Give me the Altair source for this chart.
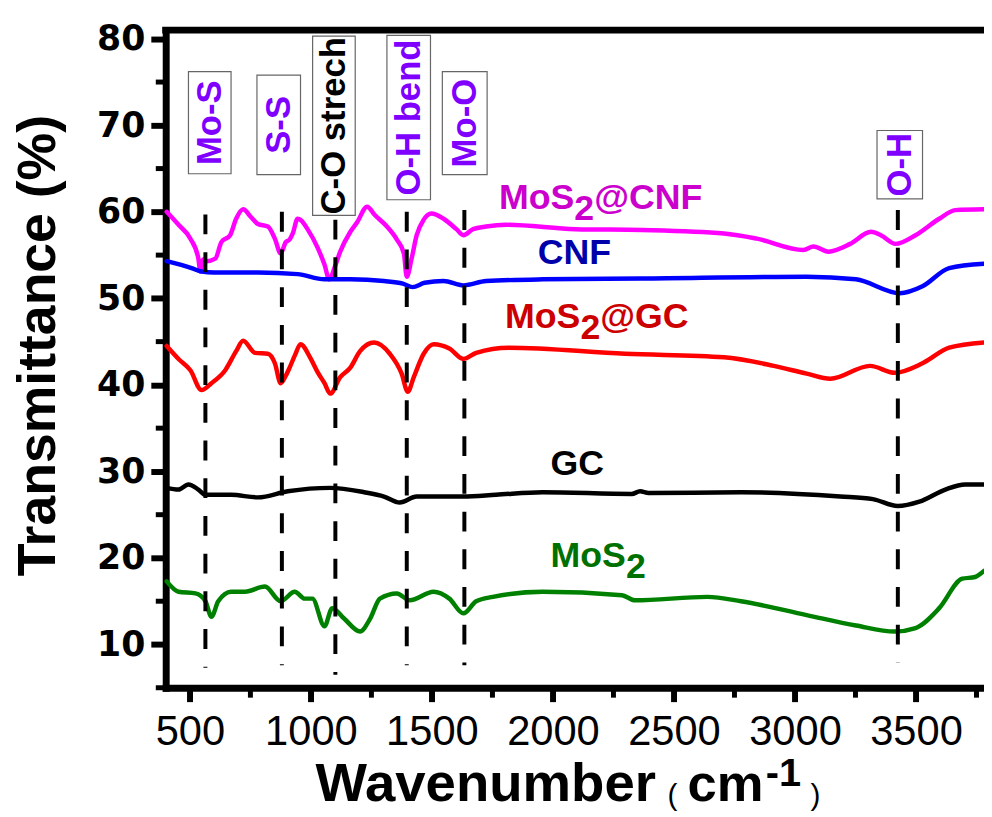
import altair as alt
import pandas as pd

# ---------------- data ----------------
names = ["MoS2@CNF", "CNF", "MoS2@GC", "GC", "MoS2"]
line_colors = ["#FF00FF", "#0000FF", "#FF0000", "#000000", "#008000"]

cnfmos_w = [404, 453, 502, 535, 543, 555, 568, 605, 630, 666, 691, 720, 752, 781, 822, 851, 875,
            896, 912, 925, 945, 960, 986, 1027, 1056, 1076, 1097, 1121, 1163, 1191, 1232, 1265,
            1314, 1355, 1384, 1396, 1416, 1437, 1466, 1498, 1548, 1601, 1630, 1670, 1724, 1806,
            2093, 2367, 2707, 2843, 3035, 3076, 3138, 3228, 3314, 3355, 3416, 3498, 3596, 3662, 3781]
cnfmos_t = [60.0, 58.5, 56.9, 54.6, 53.1, 54.5, 54.3, 54.6, 56.5, 57.3, 59.2, 60.3, 59.4, 58.6, 58.3, 56.9, 55.2,
            56.5, 56.8, 57.5, 59.2, 59.0, 58.0, 55.9, 53.9, 52.2, 53.5, 55.4, 57.7, 58.8, 60.6, 59.6,
            58.3, 56.8, 55.2, 52.5, 54.6, 57.3, 59.1, 59.8, 59.2, 58.0, 57.3, 58.0, 58.3, 58.5,
            58.0, 57.9, 57.5, 56.9, 55.6, 56.0, 55.4, 56.3, 57.7, 57.3, 56.3, 57.3, 59.2, 60.2, 60.3]

cnf_w = [404, 507, 548, 600, 781, 945, 1056, 1163, 1302, 1380, 1420, 1470, 1548, 1630, 1724, 1957,
         2367, 3048, 3252, 3433, 3527, 3637, 3781]
cnf_t = [54.3, 53.5, 53.1, 53.0, 53.0, 52.8, 52.2, 52.2, 52.0, 51.7, 51.3, 51.8, 52.0, 51.5, 52.0, 52.2,
         52.3, 52.5, 52.2, 50.6, 51.4, 53.5, 54.0]

gcmos_w = [404, 453, 502, 548, 589, 646, 691, 720, 769, 822, 851, 875, 895, 912, 935, 957, 998, 1027,
           1056, 1080, 1121, 1163, 1203, 1261, 1326, 1375, 1400, 1425, 1466, 1507, 1572, 1630, 1683,
           1818, 2298, 2707, 2912, 3048, 3146, 3310, 3412, 3527, 3637, 3781]
gcmos_t = [44.5, 43.0, 41.7, 39.4, 40.2, 41.7, 43.9, 45.1, 43.7, 43.6, 42.5, 40.2, 41.0, 42.0, 43.5, 44.7, 43.1, 41.5,
           40.2, 39.0, 40.9, 42.0, 43.9, 44.9, 43.6, 41.3, 39.2, 40.9, 43.6, 44.7, 44.2, 43.0, 43.7,
           44.3, 43.6, 43.2, 42.2, 41.3, 40.7, 42.2, 41.4, 42.5, 44.3, 44.9]

gc_w = [404, 453, 494, 535, 564, 670, 781, 904, 1080, 1220, 1302, 1367, 1437, 1630, 1765, 1957,
        2326, 2360, 2395, 2777, 3187, 3322, 3424, 3514, 3621, 3703, 3781]
gc_t = [28.1, 27.9, 28.5, 27.9, 27.3, 27.3, 27.0, 27.7, 28.1, 27.6, 27.1, 26.4, 27.1, 27.1, 27.3, 27.6,
        27.4, 27.7, 27.5, 27.6, 27.1, 26.8, 26.0, 26.5, 27.9, 28.5, 28.5]

mos_w = [404, 453, 523, 564, 589, 617, 670, 728, 810, 875, 933, 974, 1006, 1056, 1088, 1137, 1203,
         1245, 1285, 1355, 1408, 1507, 1572, 1630, 1683, 1752, 1957, 2285, 2339, 2638, 2777, 3048,
         3252, 3412, 3498, 3596, 3691, 3744, 3781]
mos_t = [17.3, 16.1, 15.9, 15.0, 13.2, 15.0, 16.1, 16.1, 16.7, 15.0, 16.1, 15.3, 15.3, 12.1, 14.2, 13.0, 11.5,
         13.0, 15.3, 15.9, 15.1, 16.1, 15.3, 13.6, 15.0, 15.5, 16.1, 15.7, 15.1, 15.5, 15.0, 13.4,
         12.2, 11.5, 11.9, 14.2, 17.6, 17.8, 18.5]

# band marker lines
band_names = ["Mo-S", "S-S", "C-O strech", "O-H bend", "Mo-O", "O-H"]
band_w = [564, 880, 1101, 1396, 1634, 3425]
band_top = [59.7, 60.0, 59.1, 60.0, 60.2, 60.2]
band_bottom = [7.3, 7.6, 6.5, 7.6, 7.6, 7.9]
# boxes around band labels (wavenumber / % ranges)
box_x1 = [494, 777, 1007, 1314, 1543, 3339]
box_x2 = [670, 957, 1183, 1494, 1728, 3527]
box_y1 = [64.4, 64.3, 59.6, 61.4, 64.3, 61.5]
box_y2 = [76.2, 75.8, 80.3, 80.4, 76.2, 69.4]
box_text_colors = ["#8000FF", "#8000FF", "#000000", "#8000FF", "#8000FF", "#8000FF"]

# series labels
lab_main = ["MoS", "CNF", "MoS", "GC", "MoS"]
lab_sub = ["2", "", "2", "", "2"]
lab_tail = ["@CNF", "", "@GC", "", ""]
lab_x = [1777, 1937, 1802, 1990, 1990]
lab_y = [60.36, 53.95, 46.61, 29.64, 18.98]
lab_colors = ["#CC00CC", "#0000AA", "#CC0000", "#000000", "#007000"]

x_ticks = [500, 1000, 1500, 2000, 2500, 3000, 3500]
x_minor = [750, 1250, 1750, 2250, 2750, 3250, 3750]
y_ticks = [10, 20, 30, 40, 50, 60, 70, 80]
y_minor = [5, 15, 25, 35, 45, 55, 65, 75]

# ---------------- build tables ----------------
rows = []
for nm, ws, ts in zip(names, [cnfmos_w, cnf_w, gcmos_w, gc_w, mos_w],
                      [cnfmos_t, cnf_t, gcmos_t, gc_t, mos_t]):
    for w, t in zip(ws, ts):
        rows.append({"s": nm, "w": w, "t": t})
df = pd.DataFrame(rows)

bands = pd.DataFrame({"name": band_names, "w": band_w, "top": band_top, "bot": band_bottom,
                      "x1": box_x1, "x2": box_x2, "y1": box_y1, "y2": box_y2,
                      "c": box_text_colors})
bands["xm"] = (bands["x1"] + bands["x2"]) / 2
bands["ym"] = (bands["y1"] + bands["y2"]) / 2

labs = pd.DataFrame({"main": lab_main, "sub": lab_sub, "tail": lab_tail,
                     "x": lab_x, "y": lab_y, "c": lab_colors})

W, H = 825, 663
FONT = "Liberation Sans"
xs = alt.Scale(domain=[400, 3781], nice=False, zero=False)
ys = alt.Scale(domain=[5, 81], nice=False, zero=False)

x_axis = alt.Axis(values=x_ticks, format="d", title=None, grid=False, labelFont=FONT, labelFontSize=42,
                  labelFontWeight="normal", labelColor="black", tickSize=14, tickWidth=6,
                  tickColor="black", domainColor="black", domainWidth=7, domainCap="square",
                  labelPadding=10, labelFlush=False, labelOverlap=False)
y_axis = alt.Axis(values=y_ticks, format="d", title=None, grid=False, labelFont="DejaVu Sans", labelFontSize=35,
                  labelFontWeight="bold", labelColor="black", tickSize=15, tickWidth=6,
                  tickColor="black", domainColor="black", domainWidth=7, domainCap="square",
                  labelPadding=6, labelFlush=False, labelOverlap=False)

lines = alt.Chart(df).mark_line(strokeWidth=4.5, strokeJoin="round", strokeCap="round",
                                interpolate="monotone").encode(
    x=alt.X("w:Q", scale=xs, axis=x_axis),
    y=alt.Y("t:Q", scale=ys, axis=y_axis),
    stroke=alt.Stroke("s:N", scale=alt.Scale(domain=names, range=line_colors), legend=None),
)

dashes = alt.Chart(bands).mark_rule(strokeWidth=4, strokeDash=[20, 18], color="black").encode(
    x=alt.X("w:Q", scale=xs), y=alt.Y("top:Q", scale=ys), y2="bot:Q")

boxes = alt.Chart(bands).mark_rect(fill="white", stroke="#666666", strokeWidth=1.2).encode(
    x=alt.X("x1:Q", scale=xs), x2="x2:Q", y=alt.Y("y1:Q", scale=ys), y2="y2:Q")

box_text = alt.Chart(bands).mark_text(angle=270, align="center", baseline="middle", font=FONT,
                                      fontSize=35, fontWeight="bold").encode(
    x=alt.X("xm:Q", scale=xs), y=alt.Y("ym:Q", scale=ys), text="name:N",
    fill=alt.Fill("c:N", scale=None))

lab_common = dict(align="left", baseline="alphabetic", font=FONT, fontSize=36, fontWeight="bold")
lab1 = alt.Chart(labs).mark_text(**lab_common).encode(
    x=alt.X("x:Q", scale=xs), y=alt.Y("y:Q", scale=ys), text="main:N", fill=alt.Fill("c:N", scale=None))
lab2 = alt.Chart(labs).mark_text(dx=76, dy=11, **lab_common).encode(
    x=alt.X("x:Q", scale=xs), y=alt.Y("y:Q", scale=ys), text="sub:N", fill=alt.Fill("c:N", scale=None))
lab3 = alt.Chart(labs).mark_text(dx=96, **lab_common).encode(
    x=alt.X("x:Q", scale=xs), y=alt.Y("y:Q", scale=ys), text="tail:N", fill=alt.Fill("c:N", scale=None))

xmin = alt.Chart(pd.DataFrame({"v": x_minor})).mark_rule(strokeWidth=5, color="black").encode(
    x=alt.X("v:Q", scale=xs), y=alt.value(H), y2=alt.value(H + 10))
ymin = alt.Chart(pd.DataFrame({"v": y_minor})).mark_rule(strokeWidth=5, color="black").encode(
    y=alt.Y("v:Q", scale=ys), x=alt.value(-10), x2=alt.value(0))
top = alt.Chart(pd.DataFrame({"v": [0]})).mark_rule(strokeWidth=7, color="black").encode(
    x=alt.value(-3.5), x2=alt.value(W), y=alt.value(0))

one = pd.DataFrame({"k": [0]})
def txt(s, x, y, size, weight="bold", angle=0, align="left"):
    return alt.Chart(one).mark_text(text=s, font=FONT, fontSize=size, fontWeight=weight,
                                    angle=angle, align=align, baseline="alphabetic",
                                    color="black").encode(x=alt.value(x), y=alt.value(y))

ytitle = txt("Transmittance (%)", -112, 318, 54, angle=270, align="center")
xt1 = txt("Wavenumber", 151, 777, 55)
xt2 = txt("(", 506, 781, 30, weight="normal")
xt3 = txt("cm", 526, 777, 53)
xt4 = txt("-1", 605, 762, 40)
xt5 = txt(")", 650, 781, 30, weight="normal")

chart = alt.layer(lines, dashes, boxes, box_text, lab1, lab2, lab3, xmin, ymin, top,
                  ytitle, xt1, xt2, xt3, xt4, xt5).properties(
    width=W, height=H, autosize=alt.AutoSizeParams(type="none"),
    padding={"left": 159, "top": 19, "right": 0, "bottom": 127},
    background="white",
).configure_view(stroke="transparent")

chart.save("out.html", embed_options={"renderer": "svg", "actions": False})
